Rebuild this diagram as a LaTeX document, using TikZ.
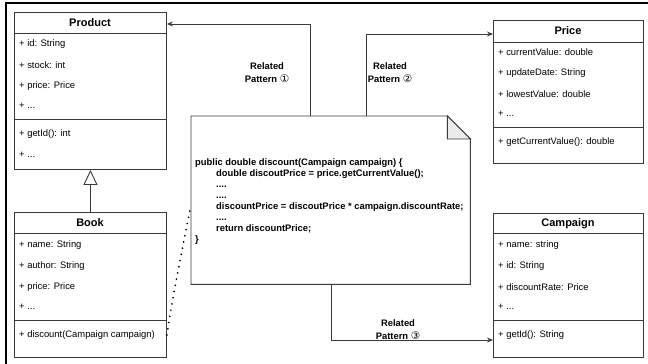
\documentclass[tikz,border=0pt]{standalone}
\usepackage{fontspec}
\setmainfont{Liberation Sans}
\newfontfamily\symfont{DejaVu Sans}
\usetikzlibrary{arrows.meta,calc}
\definecolor{ln}{HTML}{3A3A3A}
\definecolor{foldgray}{HTML}{EBEBEB}
\tikzset{
  box/.style={draw=ln, line width=0.9pt, fill=white, inner sep=0pt, anchor=north west},
  sep/.style={draw=ln, line width=0.9pt},
  hdr/.style={font=\fontsize{11}{13}\selectfont\bfseries, inner sep=0pt},
  attr/.style={font=\fontsize{9.4}{11}\selectfont, inner sep=0pt, anchor=west},
  conn/.style={draw=ln, line width=0.9pt, -{Stealth[length=6pt,width=5pt]}},
  lbl/.style={font=\fontsize{9.4}{13}\selectfont\bfseries, align=center, inner sep=0pt}
}
\newcommand{\cnum}[1]{{\symfont\mdseries\fontsize{10.5}{13}\selectfont #1}}
\begin{document}
\begin{tikzpicture}[x=1pt,y=-1pt]
\useasboundingbox (0,0) rectangle (648,364);
% outer frame
\draw[line width=1.6pt, black] (6,366) -- (6,3) -- (650,3);

% ---------- Product ----------
\node[box, minimum width=152pt, minimum height=157pt] (product) at (14,12) {};
\draw[sep] (14,33) -- (166,33);
\draw[sep] (14,119) -- (166,119);
\node[hdr] (producth) at (90,23) {Product};
\node[attr] (pa1) at (19,44) {+ id: String};
\node[attr] (pa2) at (19,65) {+ stock: int};
\node[attr] (pa3) at (19,86) {+ price: Price};
\node[attr] (pa4) at (19,106) {+ ...};
\node[attr] (pm1) at (19,134) {+ getId(): int};
\node[attr] (pm2) at (19,155) {+ ...};

% ---------- Book ----------
\node[box, minimum width=152pt, minimum height=145pt] (book) at (14,212) {};
\draw[sep] (14,233) -- (166,233);
\draw[sep] (14,320) -- (166,320);
\node[hdr] (bookh) at (90,223) {Book};
\node[attr] (ba1) at (19,245) {+ name: String};
\node[attr] (ba2) at (19,266) {+ author: String};
\node[attr] (ba3) at (19,287) {+ price: Price};
\node[attr] (ba4) at (19,307) {+ ...};
\node[attr] (bm1) at (19,335) {+ discount(Campaign campaign)};

% ---------- Price ----------
\node[box, minimum width=150pt, minimum height=143pt] (price) at (493,20) {};
\draw[sep] (493,42) -- (643,42);
\draw[sep] (493,127) -- (643,127);
\node[hdr] (priceh) at (568,31) {Price};
\node[attr] (ra1) at (498,52) {+ currentValue: double};
\node[attr] (ra2) at (498,73) {+ updateDate: String};
\node[attr] (ra3) at (498,94) {+ lowestValue: double};
\node[attr] (ra4) at (498,114) {+ ...};
\node[attr] (rm1) at (498,142) {+ getCurrentValue(): double};

% ---------- Campaign ----------
\node[box, minimum width=150pt, minimum height=144pt] (campaign) at (493,213) {};
\draw[sep] (493,233) -- (643,233);
\draw[sep] (493,320) -- (643,320);
\node[hdr] (campaignh) at (568,224) {Campaign};
\node[attr] (ca1) at (498,245) {+ name: string};
\node[attr] (ca2) at (498,266) {+ id: String};
\node[attr] (ca3) at (498,287) {+ discountRate: Price};
\node[attr] (ca4) at (498,307) {+ ...};
\node[attr] (cm1) at (498,335) {+ getId(): String};

% ---------- Note ----------
\node[inner sep=0pt, minimum width=279pt, minimum height=168pt, anchor=north west] (note) at (191,116) {};
\draw[draw=ln, line width=0.9pt, fill=white]
  (note.north west) -- ($(note.north east)+(-23,0)$) -- ($(note.north east)+(0,23)$)
  -- (note.south east) -- (note.south west) -- cycle;
\draw[draw=ln, line width=0.9pt, fill=foldgray]
  ($(note.north east)+(-23,0)$) -- ($(note.north east)+(-23,23)$) -- ($(note.north east)+(0,23)$) -- cycle;
\node[font=\fontsize{9.4}{11}\selectfont\bfseries, align=left, inner sep=0pt, anchor=north west] (code) at (195,158)
{public double discount(Campaign campaign) \{\\
\hspace*{21pt}double discoutPrice = price.getCurrentValue();\\
\hspace*{21pt}....\\
\hspace*{21pt}....\\
\hspace*{21pt}discountPrice = discoutPrice * campaign.discountRate;\\
\hspace*{21pt}....\\
\hspace*{21pt}return discountPrice;\\
\}};

% ---------- Connectors ----------
\coordinate (c1) at (310,24);
\coordinate (c2) at (366,34);
\coordinate (c3) at (331,340);
\draw[conn] (note.north -| c1) -- (c1) -- (product.east |- c1);
\draw[conn] (note.north -| c2) -- (c2) -- (price.west |- c2);
\draw[conn] (note.south -| c3) -- (c3) -- (campaign.west |- c3);

\node[lbl] (l1) at (267,72.5) {Related\\Pattern \cnum{①}};
\node[lbl] (l2) at (390,72.5) {Related\\Pattern \cnum{②}};
\node[lbl] (l3) at (398,329.5) {Related\\Pattern \cnum{③}};

% inheritance
\draw[draw=ln, line width=0.9pt, -{Triangle[open,length=15pt,width=14pt]}] (book.north) -- (product.south);

% dotted link
\coordinate (d2) at (note.west |- 0,205);
\draw[draw=black, line width=1.9pt, line cap=round, dash pattern=on 0pt off 6.3pt]
  (book.east |- bm1) .. controls (172,300) and (182,250) .. (d2);
\end{tikzpicture}
\end{document}
